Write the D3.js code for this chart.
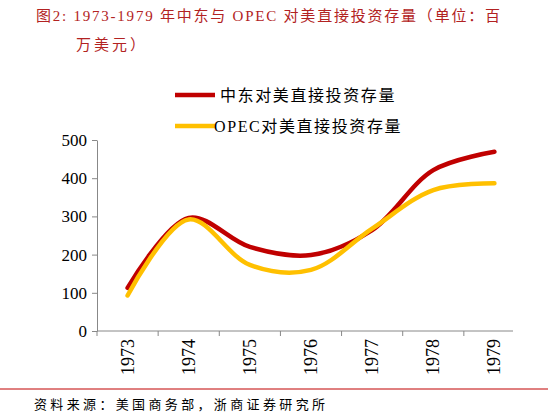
<!DOCTYPE html><html><head><meta charset="utf-8">
<script src="https://cdn.jsdelivr.net/npm/d3@7"></script>
<style>body{margin:0;background:#fff}text{font-family:"Liberation Serif","Noto Sans CJK SC",serif}</style></head><body>
<svg id="c" width="548" height="419"></svg>
<script>
const years=["1973","1974","1975","1976","1977","1978","1979"];
const middleEast=[113,296,220,199,264,421,469];
const opec=[93,292,173,160,268,369,387];
const yTicks=[0,100,200,300,400,500];
const seriesNames=["中东对美直接投资存量","OPEC对美直接投资存量"];
const colors=["#c00000","#ffc000"];
const svg=d3.select("#c");
const x=d3.scaleBand().domain(years).range([97,525]);
const y=d3.scaleLinear().domain([0,500]).range([331,140]);
svg.append("text").attr("x",36).attr("y",21).attr("fill","#b22222").attr("font-size",15).attr("textLength",464).attr("lengthAdjust","spacing").text("图2:   1973-1979 年中东与 OPEC 对美直接投资存量（单位：百");
svg.append("text").attr("x",76).attr("y",50).attr("fill","#b22222").attr("font-size",15).attr("letter-spacing",3).text("万美元）");
const ya=svg.append("g").attr("transform","translate(97,0)").call(d3.axisLeft(y).tickValues(yTicks).tickSize(5).tickSizeOuter(0));
ya.selectAll("text").attr("font-size",17).attr("fill","#000").attr("dx",-2);
ya.select(".domain").attr("stroke","#888");ya.selectAll("line").attr("stroke","#888");
const xa=svg.append("g").attr("transform","translate(0,331)");
xa.append("line").attr("x1",97).attr("x2",513).attr("stroke","#888");
years.forEach((yr,i)=>{
  xa.append("line").attr("x1",x(yr)).attr("x2",x(yr)).attr("y1",0).attr("y2",5).attr("stroke","#888");
  xa.append("text").attr("transform",`translate(${x(yr)+x.bandwidth()/2+6},8) rotate(-90)`).attr("text-anchor","end").attr("font-size",18).text(yr);
});
[middleEast,opec].forEach((s,k)=>{
  svg.append("path").datum(s).attr("fill","none").attr("stroke",colors[k]).attr("stroke-width",4.5).attr("stroke-linecap","round")
   .attr("d",d3.line().x((d,i)=>x(years[i])+x.bandwidth()/2).y(d=>y(d)).curve(d3.curveCatmullRom.alpha(0.5)));
});
seriesNames.forEach((n,k)=>{
  const ly=95+k*31;
  svg.append("line").attr("x1",175).attr("x2",215).attr("y1",ly).attr("y2",ly).attr("stroke",colors[k]).attr("stroke-width",4.5);
  svg.append("text").attr("x",k?214:220).attr("y",ly+6).attr("font-size",16).attr("letter-spacing",1.6).text(n);
});
svg.append("line").attr("x1",0).attr("x2",548).attr("y1",389).attr("y2",389).attr("stroke","#c00000").attr("stroke-width",1);
svg.append("text").attr("x",34).attr("y",409).attr("font-size",13).attr("textLength",291).attr("lengthAdjust","spacing").text("资料来源：美国商务部，浙商证券研究所");
</script></body></html>
